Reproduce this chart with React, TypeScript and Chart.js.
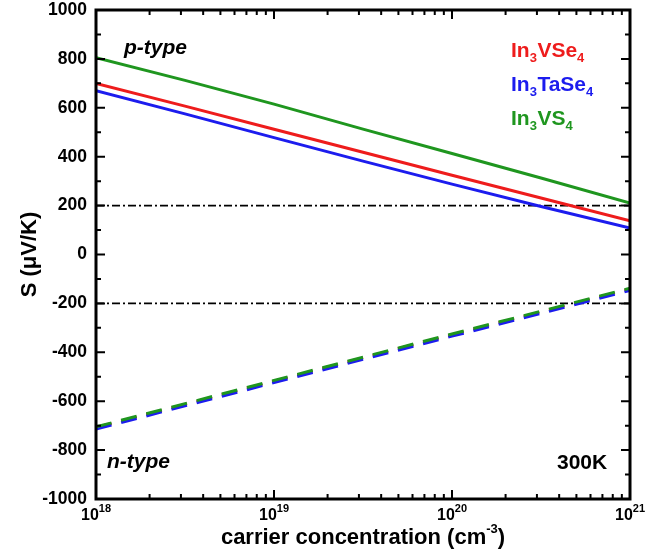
import React, { useEffect, useRef } from 'react';
import { Chart, registerables } from 'chart.js';

Chart.register(...registerables);

// carrier concentration (cm^-3)
const concentration = [1e18, 3.162e18, 1e19, 3.162e19, 1e20, 3.162e20, 1e21];
// p-type Seebeck coefficient (uV/K)
const pIn3VSe4 = [700, 607, 512, 418, 324, 231, 138];
const pIn3TaSe4 = [670, 575, 478, 382, 288, 196, 108];
const pIn3VS4 = [805, 712, 615, 513, 413, 313, 210];
// n-type Seebeck coefficient (uV/K)
const nIn3VSe4 = [-708, -613, -518, -423, -328, -235, -141];
const nIn3TaSe4 = [-714, -619, -524, -429, -334, -241, -147];
const nIn3VS4 = [-705, -610, -515, -420, -325, -232, -138];
// reference lines
const thresholds = [200, -200];
// x-axis decade exponents for tick labels
const xDecades = [18, 19, 20, 21];
// legend entries: alternating normal / subscript parts
const legendParts = [
  ['In', '3', 'VSe', '4'],
  ['In', '3', 'TaSe', '4'],
  ['In', '3', 'VS', '4'],
];
const colors = ['#ee1c1c', '#1c1cee', '#1f961f'];

const FONT = "'Liberation Sans', Arial, Helvetica, sans-serif";

const toPts = (arr: number[]) => concentration.map((c, i) => ({ x: c, y: arr[i] }));

const decorPlugin = {
  id: 'decor',
  afterDraw(chart: any) {
    const { ctx, chartArea: a, scales } = chart;
    const x = scales.x;
    const y = scales.y;
    ctx.save();
    // frame
    ctx.strokeStyle = '#000';
    ctx.lineWidth = 3;
    ctx.strokeRect(a.left, a.top, a.right - a.left, a.bottom - a.top);
    // x ticks (inward)
    ctx.lineWidth = 2;
    ctx.beginPath();
    for (let d = 18; d <= 21; d++) {
      for (let m = 1; m <= 9; m++) {
        if (d === 21 && m > 1) break;
        const px = x.getPixelForValue(m * Math.pow(10, d));
        const len = m === 1 ? 9 : 5;
        ctx.moveTo(px, a.bottom);
        ctx.lineTo(px, a.bottom - len);
        ctx.moveTo(px, a.top);
        ctx.lineTo(px, a.top + len);
      }
    }
    // y ticks (inward)
    const majors: number[] = y.ticks.map((t: any) => t.value);
    const all: { v: number; major: boolean }[] = [];
    majors.forEach((v, i) => {
      all.push({ v, major: true });
      if (i < majors.length - 1) all.push({ v: (v + majors[i + 1]) / 2, major: false });
    });
    all.forEach(({ v, major }) => {
      const py = y.getPixelForValue(v);
      const len = major ? 9 : 5;
      ctx.moveTo(a.left, py);
      ctx.lineTo(a.left + len, py);
      ctx.moveTo(a.right, py);
      ctx.lineTo(a.right - len, py);
    });
    ctx.stroke();

    ctx.fillStyle = '#000';
    ctx.textBaseline = 'alphabetic';
    // x tick labels with superscripts
    xDecades.forEach((d) => {
      const px = x.getPixelForValue(Math.pow(10, d));
      ctx.font = `bold 16px ${FONT}`;
      const w1 = ctx.measureText('10').width;
      ctx.font = `bold 11px ${FONT}`;
      const w2 = ctx.measureText(String(d)).width;
      const start = px - (w1 + w2) / 2;
      ctx.textAlign = 'left';
      ctx.font = `bold 16px ${FONT}`;
      ctx.fillText('10', start, 520);
      ctx.font = `bold 11px ${FONT}`;
      ctx.fillText(String(d), start + w1, 512);
    });
    // x title
    {
      const main = 'carrier concentration (cm';
      const sup = '-3';
      const end = ')';
      ctx.font = `bold 22px ${FONT}`;
      const wm = ctx.measureText(main).width;
      const we = ctx.measureText(end).width;
      ctx.font = `bold 13px ${FONT}`;
      const ws = ctx.measureText(sup).width;
      const cx = (a.left + a.right) / 2;
      const sx = cx - (wm + ws + we) / 2;
      ctx.textAlign = 'left';
      ctx.font = `bold 22px ${FONT}`;
      ctx.fillText(main, sx, 544);
      ctx.font = `bold 13px ${FONT}`;
      ctx.fillText(sup, sx + wm, 533);
      ctx.font = `bold 22px ${FONT}`;
      ctx.fillText(end, sx + wm + ws, 544);
    }
    // y title
    ctx.save();
    ctx.translate(30, (a.top + a.bottom) / 2);
    ctx.rotate(-Math.PI / 2);
    ctx.textAlign = 'center';
    ctx.textBaseline = 'middle';
    ctx.font = `bold 22px ${FONT}`;
    ctx.fillText('S (\u03BCV/K)', 0, 0);
    ctx.restore();

    // annotations
    ctx.textAlign = 'left';
    ctx.textBaseline = 'alphabetic';
    ctx.font = `italic bold 21px ${FONT}`;
    ctx.fillText('p-type', 124, 54);
    ctx.fillText('n-type', 107, 468);
    ctx.font = `bold 21px ${FONT}`;
    ctx.fillText('300K', 557, 469);

    // legend
    const baselines = [57, 91, 125];
    legendParts.forEach((parts, i) => {
      let lx = 511;
      ctx.fillStyle = colors[i];
      parts.forEach((p, j) => {
        const sub = j % 2 === 1;
        ctx.font = sub ? `bold 13px ${FONT}` : `bold 21px ${FONT}`;
        ctx.fillText(p, lx, baselines[i] + (sub ? 5 : 0));
        lx += ctx.measureText(p).width + (sub ? 0.5 : 0);
      });
    });
    ctx.restore();
  },
};

export default function App() {
  const ref = useRef<HTMLCanvasElement | null>(null);
  useEffect(() => {
    if (!ref.current) return;
    const solid = (label: string, data: number[], color: string, order: number) => ({
      label,
      data: toPts(data),
      borderColor: color,
      borderWidth: 3,
      pointRadius: 0,
      fill: false,
      order,
    });
    const dashed = (label: string, data: number[], color: string, order: number) => ({
      ...solid(label, data, color, order),
      borderDash: [16, 10],
    });
    const refLine = (v: number) => ({
      label: 'ref' + v,
      data: [
        { x: concentration[0], y: v },
        { x: concentration[concentration.length - 1], y: v },
      ],
      borderColor: '#000',
      borderWidth: 1.8,
      borderDash: [8, 3, 2, 3],
      pointRadius: 0,
      fill: false,
      order: 10,
    });
    const chart = new Chart(ref.current, {
      type: 'line',
      data: {
        datasets: [
          ...thresholds.map(refLine),
          solid('In3VSe4 p', pIn3VSe4, colors[0], 3),
          solid('In3TaSe4 p', pIn3TaSe4, colors[1], 2),
          solid('In3VS4 p', pIn3VS4, colors[2], 1),
          dashed('In3VSe4 n', nIn3VSe4, colors[0], 6),
          dashed('In3TaSe4 n', nIn3TaSe4, colors[1], 5),
          dashed('In3VS4 n', nIn3VS4, colors[2], 4),
        ] as any,
      },
      options: {
        responsive: false,
        animation: false,
        layout: { padding: { top: 10, right: 17, left: 0, bottom: 0 } },
        plugins: { legend: { display: false }, tooltip: { enabled: false } },
        elements: { line: { tension: 0 }, point: { radius: 0 } },
        scales: {
          x: {
            type: 'logarithmic',
            min: 1e18,
            max: 1e21,
            ticks: { display: false },
            grid: { display: false, drawTicks: false },
            border: { display: false },
            afterFit: (s: any) => {
              s.height = 59;
              s.paddingLeft = 0;
              s.paddingRight = 0;
            },
          },
          y: {
            type: 'linear',
            min: -1000,
            max: 1000,
            ticks: {
              stepSize: 200,
              color: '#000',
              padding: 9,
              font: { family: FONT, size: 17.5, weight: 'bold' },
              callback: (v: any) => String(v),
            },
            grid: { display: false, drawTicks: false },
            border: { display: false },
            afterFit: (s: any) => {
              s.width = 96;
              s.paddingTop = 0;
              s.paddingBottom = 0;
            },
          },
        },
      } as any,
      plugins: [decorPlugin],
    });
    return () => chart.destroy();
  }, []);
  return (
    <div style={{ position: 'absolute', left: 0, top: 0, width: 647, height: 558, background: '#fff' }}>
      <canvas ref={ref} width={647} height={558} style={{ display: 'block' }} />
    </div>
  );
}
